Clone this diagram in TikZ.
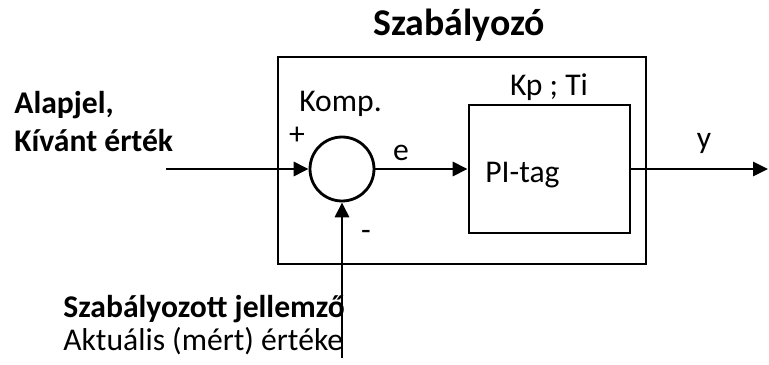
\documentclass[tikz,border=0pt]{standalone}
\usepackage{fontspec}
\setmainfont{Carlito}
\usetikzlibrary{positioning}
\usetikzlibrary{arrows.meta}

\begin{document}
\begin{tikzpicture}[
    x=0.02cm, y=-0.02cm,
    block/.style={rectangle, draw, line width=1.6pt, inner sep=0pt},
    summer/.style={circle, draw, line width=1.6pt, minimum size=1.28cm, inner sep=0pt},
    lbl/.style={font=\fontsize{18}{22}\selectfont, inner sep=0pt},
    blbl/.style={lbl, font=\fontsize{18}{22}\selectfont\bfseries},
    sig/.style={line width=1.6pt, -{Triangle[length=8.5pt, width=8pt]}},
    >=latex
]
    \useasboundingbox (0,0) rectangle (769,365);

    % blocks
    \node[block, minimum width=7.36cm, minimum height=4.14cm] (szab) at (462,160.5) {};
    \node[block, minimum width=3.22cm, minimum height=2.56cm] (pi) at (549.5,169) {};
    \node[summer] (komp) at (342,169) {};

    \coordinate (in) at (166,169);
    \coordinate (out) at (768,169);
    \coordinate (fb) at (342,358);

    % signals
    \draw[sig] (in) -- (komp);
    \draw[sig] (komp) -- (pi);
    \draw[sig] (pi.east |- out) -- (out);
    \draw[sig] (fb) -- (komp);

    % labels
    \node[blbl, font=\fontsize{21.5}{26}\selectfont\bfseries, anchor=base] (title) at (459,35) {Szabályozó};
    \node[blbl, anchor=base west] (alap) at (14,113) {Alapjel,};
    \node[blbl, anchor=base west] (kivant) at (14,152) {Kívánt érték};
    \node[lbl, anchor=base west] (kompl) at (299,112) {Komp.};
    \node[lbl, anchor=base] (plus) at (297,144) {+};
    \node[lbl, anchor=base] (el) at (401,160) {e};
    \node[lbl, anchor=base] (minus) at (366,240) {-};
    \node[lbl, anchor=base] (kpti) at (549,95) {Kp ; Ti};
    \node[lbl, anchor=base west] (pil) at (485,182) {PI-tag};
    \node[lbl, anchor=base] (yl) at (704,149) {y};
    \node[blbl, anchor=base west] (szj) at (63,317) {Szabályozott jellemző};
    \node[lbl, anchor=base west] (akt) at (63,350) {Aktuális (mért) értéke};
\end{tikzpicture}
\end{document}
